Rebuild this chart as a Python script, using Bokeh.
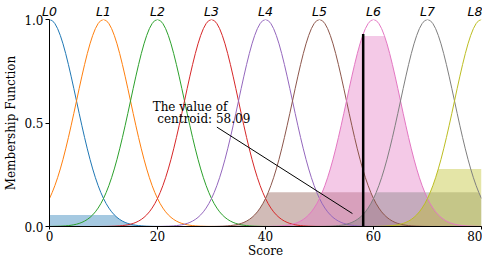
import numpy as np
from bokeh.plotting import figure
from bokeh.models import Range1d, Label, PrintfTickFormatter, FixedTicker, LinearAxis, AllLabels
from bokeh.embed import file_html
from bokeh.resources import INLINE

# ---- data ----
labels = ["L0", "L1", "L2", "L3", "L4", "L5", "L6", "L7", "L8"]
centers = [0, 10, 20, 30, 40, 50, 60, 70, 80]
sigma = 5.0
levels = [0.055, 0.0, 0.0, 0.0, 0.0, 0.165, 0.92, 0.165, 0.278]
centroid = 58.09
x_ticks = [0, 20, 40, 60, 80]
y_ticks = [0.0, 0.5, 1.0]
x_title = "Score"
y_title = "Membership Function"
colors = ["#1f77b4", "#ff7f0e", "#2ca02c", "#d62728", "#9467bd",
          "#8c564b", "#e377c2", "#7f7f7f", "#bcbd22"]

x = np.linspace(0, 80, 161)

def mf(c):
    return np.exp(-((x - c) ** 2) / (2 * sigma ** 2))

SERIF = "DejaVu Serif"

p = figure(width=482, height=260, x_range=Range1d(0, 80), y_range=Range1d(0, 1),
           output_backend="svg", toolbar_location=None,
           min_border_left=0, min_border_right=1, min_border_top=0, min_border_bottom=0)
p.outline_line_color = None
p.xgrid.visible = False
p.ygrid.visible = False
p.background_fill_color = "white"
p.border_fill_color = "white"

# fills (under lines)
for c, lv, col in zip(centers, levels, colors):
    if lv > 0:
        p.varea(x=x, y1=np.zeros_like(x), y2=np.minimum(mf(c), lv),
                fill_color=col, fill_alpha=0.4)

for c, col in zip(centers, colors):
    p.line(x, mf(c), line_color=col, line_width=1)

# centroid line
i6 = labels.index("L6")
top = float(np.exp(-((centroid - centers[i6]) ** 2) / (2 * sigma ** 2)))
p.segment(x0=[centroid], y0=[0], x1=[centroid], y1=[top], line_color="black", line_width=2.5)

# annotation
p.segment(x0=[31.0], y0=[0.48], x1=[56.1], y1=[0.0625], line_color="black", line_width=1)
p.add_layout(Label(x=19.1, y=0.577, text="The value of", text_font=SERIF,
                   text_font_size="12px", text_color="black", text_baseline="alphabetic"))
p.add_layout(Label(x=19.95, y=0.518, text="centroid: " + f"{centroid:.2f}", text_font=SERIF,
                   text_font_size="12px", text_color="black", text_baseline="alphabetic"))


def label_axis(ticks, overrides, font, size, style="normal", standoff=0):
    ax = LinearAxis(ticker=FixedTicker(ticks=ticks), major_label_overrides=overrides,
                    major_label_policy=AllLabels())
    ax.axis_line_color = None
    ax.major_tick_line_color = None
    ax.minor_tick_line_color = None
    ax.major_tick_out = 0
    ax.major_tick_in = 0
    ax.major_label_standoff = standoff
    ax.major_label_text_font = font
    ax.major_label_text_font_style = style
    ax.major_label_text_font_size = size
    ax.major_label_text_color = "black"
    return ax

# L labels above the plot
p.add_layout(label_axis(centers, {c: lab for c, lab in zip(centers, labels)},
                        "DejaVu Sans", "12.5px", "italic", standoff=1), "above")

xa = p.below[0]
ya = p.left[0]
for ax in (xa, ya):
    ax.axis_line_color = "black"
    ax.major_tick_line_color = "black"
    ax.minor_tick_line_color = None
    ax.major_tick_in = 0
    ax.major_label_text_font = SERIF
    ax.major_label_text_font_size = "12px"
    ax.major_label_text_color = "black"
    ax.major_label_policy = AllLabels()

xa.major_tick_out = 3
xa.major_label_standoff = 1
ya.major_tick_out = 4
ya.major_label_standoff = 2

xa.ticker = FixedTicker(ticks=x_ticks)
ya.ticker = FixedTicker(ticks=y_ticks)
ya.formatter = PrintfTickFormatter(format="%.1f")

# axis titles as label-only axes (tighter than axis_label)
p.add_layout(label_axis([40], {40: x_title}, SERIF, "12px", standoff=0), "below")
ytitle_ax = label_axis([0.5], {0.5: y_title}, SERIF, "12px", standoff=4)
ytitle_ax.major_label_orientation = "vertical"
p.add_layout(ytitle_ax, "left")

open("out.html", "w").write(file_html(p, INLINE))
